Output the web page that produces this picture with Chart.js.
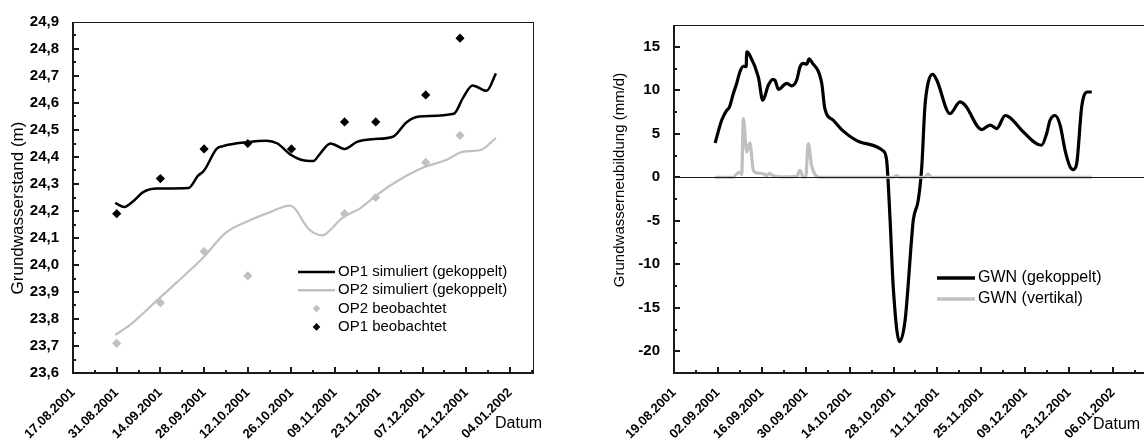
<!DOCTYPE html>
<html>
<head>
  <meta charset="utf-8">
  <title>Grundwasserstand und Grundwasserneubildung</title>
  <script src="https://cdn.jsdelivr.net/npm/chart.js"></script>
  <style>
    html, body { margin: 0; padding: 0; background: #fff; overflow: hidden; }
    .box { position: absolute; top: 0; }
  </style>
</head>
<body>
  <div class="box" style="left:0"><canvas id="stand" width="560" height="440"></canvas></div>
  <div class="box" style="left:560px"><canvas id="gwn" width="600" height="440"></canvas></div>
  <script>
    // x-Werte: Tage seit dem 17.08.2001

    // Grundwasserstand (m)
    var op1SimTage = [13.5, 16.5, 19, 22.5, 27, 37, 40, 42, 46, 48, 56, 62, 65.5, 69.5, 73, 77, 79, 82.5, 87, 91, 96, 102.5, 107, 111, 122, 125, 128, 132.5, 135.5];
    var op1Sim = [24.23, 24.215, 24.233, 24.27, 24.283, 24.285, 24.33, 24.35, 24.43, 24.44, 24.455, 24.46, 24.45, 24.41, 24.39, 24.385, 24.41, 24.45, 24.43, 24.456, 24.466, 24.475, 24.53, 24.55, 24.56, 24.62, 24.665, 24.645, 24.71];
    var op2SimTage = [13.5, 19, 27, 33, 41.5, 49, 56.5, 63, 69.5, 71, 75, 77, 80, 83.3, 86.2, 92, 97.4, 103.8, 112, 119.8, 125, 130.4, 135.5];
    var op2Sim = [23.74, 23.785, 23.87, 23.933, 24.025, 24.12, 24.165, 24.195, 24.22, 24.21, 24.14, 24.12, 24.11, 24.14, 24.174, 24.21, 24.26, 24.31, 24.36, 24.39, 24.42, 24.425, 24.47];
    var op1BeobTage = [14, 28, 42, 56, 70, 87, 97, 113, 124];
    var op1Beob = [24.19, 24.32, 24.43, 24.45, 24.43, 24.53, 24.53, 24.63, 24.84];
    var op2BeobTage = [14, 28, 42, 56, 87, 97, 113, 124];
    var op2Beob = [23.71, 23.86, 24.05, 23.96, 24.19, 24.25, 24.38, 24.48];

    // Grundwasserneubildung (mm/d)
    var gwnGekTage = [15.1, 17.2, 18.8, 19.6, 20.9, 22.0, 23.0, 24.1, 25.0, 25.2, 26.2, 28.9, 30.3, 32.1, 33.5, 34.2, 35.3, 37.9, 39.5, 41.1, 42.2, 43.2, 44.3, 45.1, 45.9, 49.1, 50.1, 52.8, 56.0, 61.3, 68.7, 69.8, 70.9, 71.9, 73.9, 75.7, 77.8, 78.3, 79.9, 81.0, 82.0, 83.1, 84.5, 85.8, 90.0, 93.2, 94.8, 100.1, 102.8, 104.9, 107.6, 109.1, 113.4, 119.2, 120.8, 121.9, 123.5, 125.1, 126.7, 128.3, 129.3, 130.4, 132.0, 133.8, 135.2];
    var gwnGek = [3.94, 6.55, 7.7, 8.0, 9.6, 10.8, 12.1, 12.76, 12.7, 14.4, 14.0, 11.5, 8.85, 10.6, 11.26, 11.15, 10.1, 10.8, 10.5, 11.15, 12.7, 13.1, 13.0, 13.6, 13.25, 10.8, 7.9, 6.55, 5.3, 4.06, 3.03, 1.95, -4.9, -12.6, -18.9, -16.4, -6.9, -4.9, -2.6, 1.2, 8.1, 10.96, 11.84, 11.15, 7.3, 8.66, 8.3, 5.48, 6.0, 5.6, 7.1, 6.86, 5.2, 3.68, 5.0, 6.55, 7.1, 6.0, 3.1, 1.19, 0.88, 1.57, 8.1, 9.8, 9.8];
    var gwnVertTage = [15.1, 20.9, 22.0, 23.0, 23.6, 24.1, 25.2, 26.2, 27.3, 28.4, 30.5, 31.6, 32.4, 33.5, 36.7, 41.1, 42.2, 43.2, 44.0, 44.8, 45.9, 47.0, 48.6, 72.0, 73.0, 74.0, 82.0, 83.0, 84.0, 135.2];
    var gwnVert = [0, 0, 0.4, 0.6, 0.3, 6.74, 2.9, 3.95, 0.8, 0.5, 0.4, 0.2, 0.45, 0.2, 0.05, 0.1, 0.8, 0, 0, 3.87, 1.3, 0.3, 0, 0, 0.2, 0, 0, 0.4, 0, 0];

    var schwarz = '#000000';
    var grau = '#c0c0c0';

    Chart.defaults.font.family = 'Arial, "Liberation Sans", sans-serif';
    Chart.defaults.color = '#000';

    var tag0 = Date.UTC(2001, 7, 17);
    function datum(tag) {
      var d = new Date(tag0 + Math.round(tag) * 86400000);
      var dd = String(d.getUTCDate()).padStart(2, '0');
      var mm = String(d.getUTCMonth() + 1).padStart(2, '0');
      return dd + '.' + mm + '.' + d.getUTCFullYear();
    }

    function punkte(xs, ys) {
      return xs.map(function (x, i) { return { x: x, y: ys[i] }; });
    }

    // Ticks ab dem Achsenminimum in festen Schritten
    function schritte(schritt) {
      return function (scale) {
        var t = [];
        var n = Math.floor((scale.max - scale.min) / schritt + 1e-6);
        for (var i = 0; i <= n; i++) {
          t.push({ value: Math.round((scale.min + i * schritt) * 1000) / 1000 });
        }
        scale.ticks = t;
      };
    }

    // Rahmen, nach innen zeigende Ticks, Achsentitel und Legende
    var rahmen = {
      id: 'rahmen',
      afterDatasetsDraw: function (chart, args, o) {
        var ctx = chart.ctx, a = chart.chartArea;
        var sx = chart.scales.x, sy = chart.scales.y;
        ctx.save();
        ctx.strokeStyle = '#1a1a1a';
        ctx.lineWidth = 1;
        ctx.beginPath();
        ctx.moveTo(a.left, a.top + 0.5);
        ctx.lineTo(a.right, a.top + 0.5);
        if (o.rechts) {
          ctx.moveTo(a.right - 0.5, a.top);
          ctx.lineTo(a.right - 0.5, a.bottom);
        }
        if (o.nulllinie) {
          var y0 = Math.round(sy.getPixelForValue(0)) + 0.5;
          ctx.moveTo(a.left, y0);
          ctx.lineTo(a.right, y0);
        }
        ctx.stroke();

        ctx.lineWidth = 2;
        ctx.beginPath();
        ctx.moveTo(a.left, a.top);
        ctx.lineTo(a.left, a.bottom);
        ctx.lineTo(a.right, a.bottom);
        sx.ticks.forEach(function (t) {
          var px = Math.round(sx.getPixelForValue(t.value));
          if (px <= a.left + 1) return;
          ctx.moveTo(px, a.bottom);
          ctx.lineTo(px, a.bottom - (t.label ? 6 : 3));
        });
        sy.ticks.forEach(function (t) {
          var py = Math.round(sy.getPixelForValue(t.value));
          if (py >= a.bottom - 1 || py <= a.top + 1) return;
          ctx.moveTo(a.left, py);
          ctx.lineTo(a.left + (t.label ? 6 : 3), py);
        });
        ctx.stroke();
        ctx.restore();
      },
      afterDraw: function (chart, args, o) {
        var ctx = chart.ctx;
        ctx.save();
        ctx.fillStyle = '#000';
        ctx.textBaseline = 'middle';

        // y-Achsentitel
        ctx.font = o.titelGroesse + 'px Arial, "Liberation Sans", sans-serif';
        ctx.textAlign = 'center';
        ctx.translate(o.titelX, o.titelY);
        ctx.rotate(-Math.PI / 2);
        ctx.fillText(o.titel, 0, 0);
        ctx.setTransform(1, 0, 0, 1, 0, 0);

        // x-Achsentitel
        ctx.font = '16px Arial, "Liberation Sans", sans-serif';
        ctx.textAlign = 'left';
        ctx.textBaseline = 'alphabetic';
        ctx.fillText('Datum', o.datumX, o.datumY);

        // Legende
        var L = o.legende;
        ctx.font = L.schrift + 'px Arial, "Liberation Sans", sans-serif';
        ctx.textBaseline = 'middle';
        L.reihenfolge.forEach(function (idx, z) {
          var ds = chart.data.datasets[idx];
          var y = L.y + z * L.zeile;
          if (ds.showLine === false) {
            var cx = L.x + L.laenge / 2, r = 3.8;
            ctx.fillStyle = ds.pointBackgroundColor;
            ctx.beginPath();
            ctx.moveTo(cx, y - r);
            ctx.lineTo(cx + r, y);
            ctx.lineTo(cx, y + r);
            ctx.lineTo(cx - r, y);
            ctx.closePath();
            ctx.fill();
          } else {
            ctx.strokeStyle = ds.borderColor;
            ctx.lineWidth = L.linie;
            ctx.beginPath();
            ctx.moveTo(L.x, y);
            ctx.lineTo(L.x + L.laenge, y);
            ctx.stroke();
          }
          ctx.fillStyle = '#000';
          ctx.fillText(ds.label, L.x + L.laenge + 3, y);
        });
        ctx.restore();
      }
    };

    var xTickFont = { size: 13, weight: 'bold' };
    var yTickFont = { size: 15, weight: 'bold' };

    // Linkes Diagramm: Grundwasserstand
    new Chart(document.getElementById('stand'), {
      type: 'line',
      data: {
        datasets: [
          {
            label: 'OP1 simuliert (gekoppelt)',
            data: punkte(op1SimTage, op1Sim),
            borderColor: schwarz,
            borderWidth: 2.5,
            pointRadius: 0,
            cubicInterpolationMode: 'monotone',
            order: 2
          },
          {
            label: 'OP2 simuliert (gekoppelt)',
            data: punkte(op2SimTage, op2Sim),
            borderColor: grau,
            borderWidth: 2.2,
            pointRadius: 0,
            cubicInterpolationMode: 'monotone',
            order: 2
          },
          {
            label: 'OP2 beobachtet',
            data: punkte(op2BeobTage, op2Beob),
            showLine: false,
            pointStyle: 'rectRot',
            pointRadius: 4.6,
            pointBorderWidth: 0,
            pointBackgroundColor: grau,
            pointBorderColor: grau,
            order: 1
          },
          {
            label: 'OP1 beobachtet',
            data: punkte(op1BeobTage, op1Beob),
            showLine: false,
            pointStyle: 'rectRot',
            pointRadius: 4.6,
            pointBorderWidth: 0,
            pointBackgroundColor: schwarz,
            pointBorderColor: schwarz,
            order: 0
          }
        ]
      },
      options: {
        responsive: false,
        animation: false,
        events: [],
        layout: { padding: { top: 22, right: 26, left: 0, bottom: 0 } },
        plugins: {
          legend: { display: false },
          tooltip: { enabled: false },
          rahmen: {
            rechts: true,
            titel: 'Grundwasserstand (m)', titelGroesse: 17, titelX: 18, titelY: 208,
            datumX: 495, datumY: 428,
            legende: { x: 298, y: 272, zeile: 18.3, laenge: 37, linie: 2.5, schrift: 15, reihenfolge: [0, 1, 2, 3] }
          }
        },
        scales: {
          x: {
            type: 'linear',
            min: 0,
            max: 147.7,
            grid: { display: false },
            border: { display: false },
            afterBuildTicks: schritte(7),
            afterFit: function (s) { s.height = 67; },
            ticks: {
              autoSkip: false,
              minRotation: 45,
              maxRotation: 45,
              padding: 4,
              font: xTickFont,
              callback: function (v) { return v % 14 === 0 ? datum(v) : ''; }
            }
          },
          y: {
            min: 23.6,
            max: 24.9,
            grid: { display: false },
            border: { display: false },
            afterBuildTicks: schritte(0.05),
            afterFit: function (s) { s.width = 73; },
            ticks: {
              autoSkip: false,
              padding: 6,
              font: yTickFont,
              callback: function (v) {
                return Math.round(v * 100) % 10 === 0 ? v.toFixed(1).replace('.', ',') : '';
              }
            }
          }
        }
      },
      plugins: [rahmen]
    });

    // Rechtes Diagramm: Grundwasserneubildung
    new Chart(document.getElementById('gwn'), {
      type: 'line',
      data: {
        datasets: [
          {
            label: 'GWN (gekoppelt)',
            data: punkte(gwnGekTage, gwnGek),
            borderColor: schwarz,
            borderWidth: 3.2,
            pointRadius: 0,
            cubicInterpolationMode: 'monotone',
            order: 2
          },
          {
            label: 'GWN (vertikal)',
            data: punkte(gwnVertTage, gwnVert),
            borderColor: grau,
            borderWidth: 3.2,
            pointRadius: 0,
            cubicInterpolationMode: 'monotone',
            order: 1
          }
        ]
      },
      options: {
        responsive: false,
        animation: false,
        events: [],
        layout: { padding: { top: 25, right: 14, left: 0, bottom: 0 } },
        plugins: {
          legend: { display: false },
          tooltip: { enabled: false },
          rahmen: {
            rechts: false,
            nulllinie: true,
            titel: 'Grundwasserneubildung (mm/d)', titelGroesse: 15, titelX: 60, titelY: 180,
            datumX: 533, datumY: 429,
            legende: { x: 377, y: 278, zeile: 21, laenge: 38, linie: 3.5, schrift: 16, reihenfolge: [0, 1] }
          }
        },
        scales: {
          x: {
            type: 'linear',
            min: 2,
            max: 152.5,
            grid: { display: false },
            border: { display: false },
            afterBuildTicks: schritte(7),
            afterFit: function (s) { s.height = 67; },
            ticks: {
              autoSkip: false,
              minRotation: 45,
              maxRotation: 45,
              padding: 4,
              font: xTickFont,
              callback: function (v) { return (v - 2) % 14 === 0 ? datum(v) : ''; }
            }
          },
          y: {
            min: -22.5,
            max: 17.5,
            grid: { display: false },
            border: { display: false },
            afterBuildTicks: schritte(2.5),
            afterFit: function (s) { s.width = 114; },
            ticks: {
              autoSkip: false,
              padding: 6,
              font: yTickFont,
              callback: function (v) { return v % 5 === 0 ? String(v) : ''; }
            }
          }
        }
      },
      plugins: [rahmen]
    });
  </script>
</body>
</html>
